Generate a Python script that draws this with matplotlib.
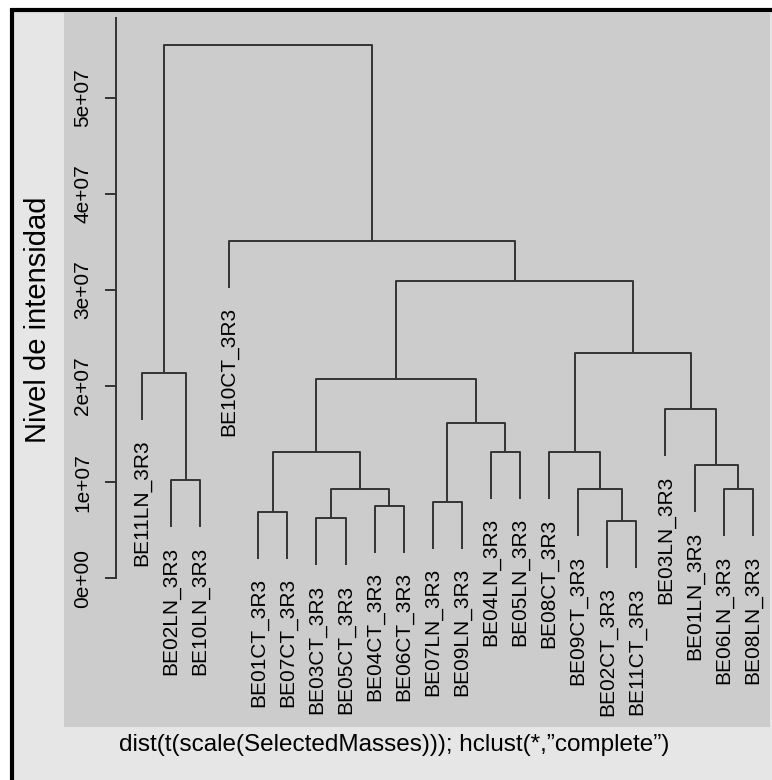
import matplotlib
matplotlib.use("Agg")
import matplotlib.pyplot as plt
from matplotlib import font_manager
from matplotlib.patches import Rectangle
import numpy as np

# leaves in dendrogram order
labels = ["BE11LN_3R3", "BE02LN_3R3", "BE10LN_3R3", "BE10CT_3R3", "BE01CT_3R3",
          "BE07CT_3R3", "BE03CT_3R3", "BE05CT_3R3", "BE04CT_3R3", "BE06CT_3R3",
          "BE07LN_3R3", "BE09LN_3R3", "BE04LN_3R3", "BE05LN_3R3", "BE08CT_3R3",
          "BE09CT_3R3", "BE02CT_3R3", "BE11CT_3R3", "BE03LN_3R3", "BE01LN_3R3",
          "BE06LN_3R3", "BE08LN_3R3"]

# merges like R hclust: negative = leaf (1-based), positive = earlier merge row
merge_a = [-17, -7, -5, -9, -11, -16, 2, -21, -2, -20, 3, -13, -15, 5, -19, 11, -1, 13, 16, -4, 17]
merge_b = [-18, -8, -6, -10, -12, 1, 4, -22, -3, 8, 7, -14, 6, 12, 10, 14, 9, 15, 18, 19, 20]
heights = [0.596e7, 0.624e7, 0.693e7, 0.755e7, 0.797e7, 0.926e7, 0.926e7, 0.926e7,
           1.02e7, 1.179e7, 1.317e7, 1.317e7, 1.31e7, 1.613e7, 1.762e7, 2.074e7,
           2.133e7, 2.348e7, 3.097e7, 3.513e7, 5.55e7]

tick_values = [0, 1e7, 2e7, 3e7, 4e7, 5e7]
tick_labels = ["0e+00", "1e+07", "2e+07", "3e+07", "4e+07", "5e+07"]

hang = 0.49e7
label_gap = 0.2e7
line_col = "#333333"

plt.rcParams["font.family"] = ["Liberation Sans", "DejaVu Sans"]

try:
    font_manager.findfont("Liberation Sans Narrow", fallback_to_default=False)
    title_font = dict(family=["Liberation Sans Narrow", "DejaVu Sans"], size=20.5)
except ValueError:
    title_font = dict(family=["Liberation Sans", "DejaVu Sans"], size=17.5)

W, H = 772, 780
fig = plt.figure(figsize=(W / 100, H / 100), dpi=100)
fig.patch.set_facecolor("white")

# light grey frame with black border
fig.add_artist(Rectangle((11.5 / W, -0.05), 1.1, (H - 10.3) / H + 0.05,
                         transform=fig.transFigure, facecolor="#e6e6e6",
                         edgecolor="black", linewidth=3, zorder=0))

ax = fig.add_axes([64 / W, 53 / H, 706 / W, 715 / H])
ax.set_facecolor("#cccccc")

n = len(labels)
node_x = []
for i in range(len(heights)):
    h = heights[i]
    xs, ys = [], []
    for c in (merge_a[i], merge_b[i]):
        if c < 0:
            x = -c
            y = h - hang
            ax.text(x, y - label_gap, labels[-c - 1], rotation=90, ha="center", va="top",
                    fontsize=15, color="black")
        else:
            x = node_x[c - 1]
            y = heights[c - 1]
        xs.append(x)
        ys.append(y)
    ax.plot([xs[0], xs[0], xs[1], xs[1]], [ys[0], h, h, ys[1]], color=line_col, lw=1.4,
            solid_capstyle="butt")
    node_x.append((xs[0] + xs[1]) / 2)

px = 29.08
ax.set_xlim(1 + (64 - 142) / px, 1 + (770 - 142) / px)
ax.set_ylim((578.3 - 727) / 96.1 * 1e7, (578.3 - 12) / 96.1 * 1e7)

for s in ["top", "right", "bottom"]:
    ax.spines[s].set_visible(False)
ax.spines["left"].set_position(("axes", (116 - 64) / 706))
ax.spines["left"].set_bounds(0, 5.83e7)
ax.spines["left"].set_color(line_col)
ax.spines["left"].set_linewidth(1.4)
ax.set_xticks([])
ax.set_yticks(tick_values)
ax.set_yticklabels(tick_labels)
ax.tick_params(axis="y", length=8, width=1.4, color=line_col, pad=9, labelsize=15)
plt.setp(ax.get_yticklabels(), rotation=90, va="center")

fig.text(38 / W, 1 - 320 / H, "Nivel de intensidad", rotation=90, ha="center", va="center",
         fontsize=21)
fig.text(394 / W, 1 - 745 / H, "dist(t(scale(SelectedMasses))); hclust(*,\u201dcomplete\u201d)",
         ha="center", va="center", **title_font)

fig.savefig("out.png", dpi=100)
